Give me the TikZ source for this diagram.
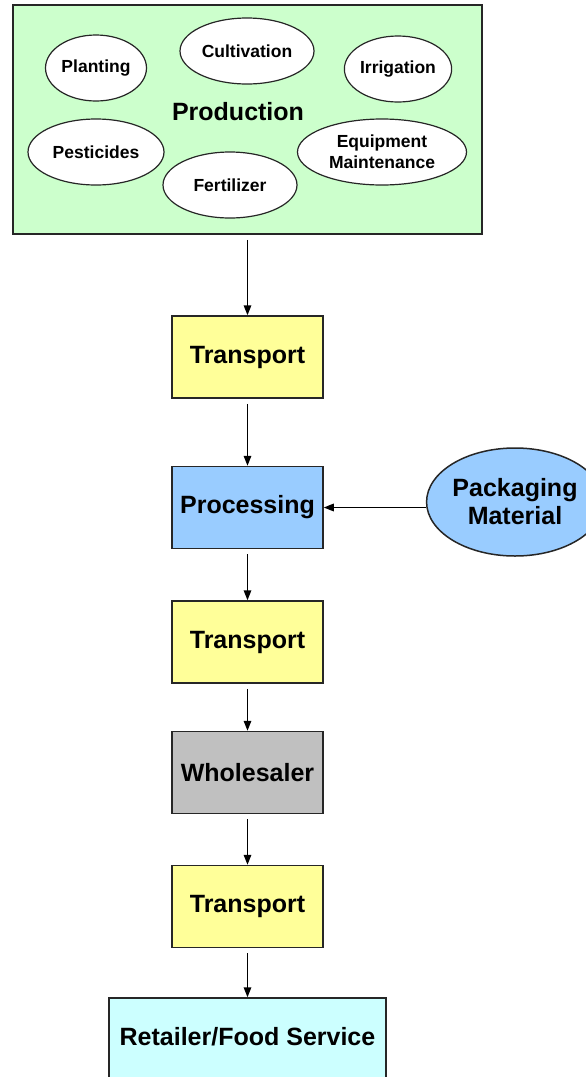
\documentclass[tikz,border=0pt]{standalone}
\usepackage{fontspec}
\setmainfont{Liberation Sans}
\usetikzlibrary{shapes.geometric,arrows.meta}
\definecolor{prodgreen}{RGB}{204,255,204}
\definecolor{transyellow}{RGB}{255,255,153}
\definecolor{procblue}{RGB}{153,204,255}
\definecolor{wholegrey}{RGB}{192,192,192}
\definecolor{retailcyan}{RGB}{204,255,255}
\tikzset{
  big/.style={font=\fontsize{25}{28}\selectfont\bfseries},
  small/.style={font=\fontsize{17.5}{21}\selectfont\bfseries},
  stepbox/.style={draw=black!85, line width=1.5pt, rectangle, inner sep=0pt, minimum width=151pt, minimum height=82pt, big, align=center},
  activity/.style={draw=black!85, line width=1.2pt, ellipse, fill=white, inner sep=0pt, small, align=center},
  flow/.style={draw=black, line width=1.6pt, -{Triangle[length=10pt,width=7.5pt]}, shorten <=5pt}
}
\begin{document}
\begin{tikzpicture}[x=1pt,y=-1pt]
\clip (0,0) rectangle (586,1077);
\useasboundingbox (0,0) rectangle (586,1077);
\fill[white] (0,0) rectangle (586,1077);
% Production
\node[draw=black!85, line width=1.5pt, fill=prodgreen, rectangle, inner sep=0pt, minimum width=469pt, minimum height=229pt] (prod) at (247.5,119.5) {};
\node[big] (prodlabel) at (238,112) {Production};
\node[activity, minimum width=101pt, minimum height=66pt] (planting) at (96,68) {Planting};
\node[activity, minimum width=134pt, minimum height=66pt] (cultivation) at (247,51) {Cultivation};
\node[activity, minimum width=101pt, minimum height=66pt] (irrigation) at (398,69) {Irrigation};
\node[activity, minimum width=136pt, minimum height=66pt] (pesticides) at (96,152) {Pesticides};
\node[activity, minimum width=134pt, minimum height=66pt] (fertilizer) at (230,185) {Fertilizer};
\node[activity, minimum width=169pt, minimum height=66pt] (equipment) at (382,152) {Equipment\\Maintenance};
% Chain
\node[stepbox, fill=transyellow] (t1) at (247.5,357) {Transport};
\node[stepbox, fill=procblue] (proc) at (247.5,507.5) {Processing};
\node[draw=black!85, line width=1.5pt, ellipse, fill=procblue, inner sep=0pt, minimum width=166pt, minimum height=108pt, big, align=center] (pack) at (515,502) {Packaging\\Material};
\node[stepbox, fill=transyellow] (t2) at (247.5,642) {Transport};
\node[stepbox, fill=wholegrey] (whole) at (247.5,772.5) {Wholesaler};
\node[stepbox, fill=transyellow] (t3) at (247.5,906.5) {Transport};
\node[draw=black!85, line width=1.5pt, fill=retailcyan, rectangle, inner sep=0pt, minimum width=277pt, minimum height=96pt, big] (retail) at (247.5,1046) {};
\node[big] (retaillabel) at (247.5,1037) {Retailer/Food Service};
% Connectors
\draw[flow] (prod.south) -- (t1.north);
\draw[flow] (t1.south) -- (proc.north);
\draw[flow, shorten <=0pt] (proc.east -| pack.west) -- (proc.east);
\draw[flow] (proc.south) -- (t2.north);
\draw[flow] (t2.south) -- (whole.north);
\draw[flow] (whole.south) -- (t3.north);
\draw[flow] (t3.south) -- (retail.north);
\end{tikzpicture}
\end{document}
